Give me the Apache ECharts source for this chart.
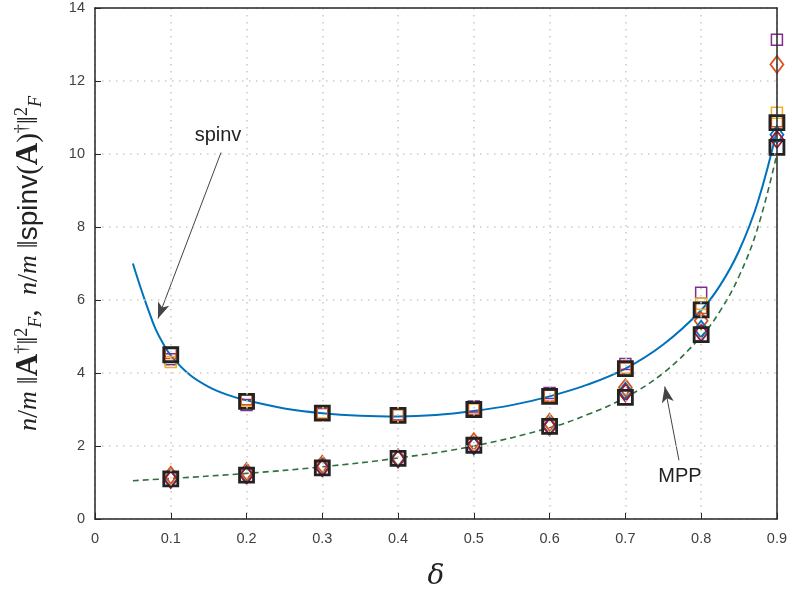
<!DOCTYPE html>
<html><head><meta charset="utf-8">
<script src="https://cdn.jsdelivr.net/npm/echarts@6/dist/echarts.min.js"></script>
<style>html,body{margin:0;padding:0;background:#fff}#c{width:790px;height:596px}</style>
</head><body><div id="c"></div>
<script>
// ---- data ----
const xTicks = [0, 0.1, 0.2, 0.3, 0.4, 0.5, 0.6, 0.7, 0.8, 0.9];
const deltas = [0.1, 0.2, 0.3, 0.4, 0.5, 0.6, 0.7, 0.8, 0.9];

// theoretical curves
const spinvCurveX = [0.05, 0.06, 0.07, 0.08, 0.09, 0.1, 0.125, 0.15, 0.175, 0.2, 0.25, 0.3, 0.35, 0.4, 0.45, 0.5, 0.55, 0.6, 0.65, 0.7, 0.75, 0.8, 0.825, 0.85, 0.875, 0.9];
const spinvCurveY = [7.0, 6.35, 5.75, 5.2, 4.8, 4.48, 3.95, 3.62, 3.4, 3.25, 3.03, 2.9, 2.83, 2.81, 2.85, 2.96, 3.12, 3.36, 3.68, 4.12, 4.78, 5.72, 6.4, 7.35, 8.7, 10.65];
const mppCurveX = [0.05, 0.1, 0.2, 0.3, 0.4, 0.5, 0.6, 0.65, 0.7, 0.75, 0.8, 0.825, 0.85, 0.875, 0.9];
const mppCurveY = [1.05, 1.11, 1.25, 1.43, 1.67, 2.0, 2.5, 2.86, 3.33, 4.0, 5.0, 5.7, 6.65, 8.0, 10.0];

// empirical markers, spinv (squares)
const spinvPurple = [4.38, 3.12, 2.88, 2.86, 3.08, 3.45, 4.25, 6.2, 13.13];
const spinvYellow = [4.3, 3.25, 2.92, 2.84, 3.0, 3.38, 4.15, 5.9, 11.13];
const spinvOrange = [4.55, 3.28, 2.9, 2.85, 3.02, 3.38, 4.12, 5.78, 10.9];
const spinvBlack  = [4.5, 3.22, 2.9, 2.84, 3.0, 3.36, 4.12, 5.73, 10.86];
// empirical markers, MPP (diamonds + black squares)
const mppOrange = [1.2, 1.3, 1.5, 1.68, 2.12, 2.65, 3.6, 5.43, 12.45];
const mppBlue   = [1.1, 1.22, 1.42, 1.66, 2.0, 2.55, 3.5, 5.2, 10.53];
const mppRed    = [1.08, 1.2, 1.4, 1.64, 2.02, 2.52, 3.45, 5.1, 10.4];
const mppBlack  = [1.1, 1.2, 1.4, 1.66, 2.02, 2.54, 3.33, 5.05, 10.18];

const zip = (xs, ys) => xs.map((x, i) => [x, ys[i]]);

function sq(name, data, color, size, bw, z) {
  return { name, type: 'scatter', data: zip(deltas, data), symbol: 'rect', symbolSize: size,
    itemStyle: { color: 'rgba(0,0,0,0)', borderColor: color, borderWidth: bw, opacity: 1 }, z: z, silent: true };
}
function dm(name, data, color, z) {
  return { name, type: 'scatter', data: zip(deltas, data), symbol: 'diamond', symbolSize: [13, 17],
    itemStyle: { color: 'rgba(0,0,0,0)', borderColor: color, borderWidth: 1.8, opacity: 1 }, z: z, silent: true };
}

const gridLine = { show: true, lineStyle: { color: '#cccccc', type: [1.5, 5.5], width: 1.6 } };
const frame = { show: true, onZero: false, lineStyle: { color: '#262626', width: 1.5 } };

const chart = echarts.init(document.getElementById('c'));
chart.setOption({
  animation: false,
  backgroundColor: '#fff',
  grid: { left: 95, right: 13, top: 8, bottom: 75 },
  xAxis: [{
    type: 'value', min: 0, max: 0.9, interval: 0.1, z: 10,
    axisLine: frame,
    axisTick: { show: true, inside: true, length: 6, lineStyle: { color: '#262626' } },
    axisLabel: { color: '#404040', fontSize: 14.5, fontFamily: 'Liberation Sans, Helvetica, Arial', margin: 12,
      formatter: v => (Math.round(v * 10) / 10).toString() },
    splitLine: gridLine,
    name: 'δ', nameLocation: 'middle', nameGap: 44,
    nameTextStyle: { fontFamily: 'DejaVu Serif, Liberation Serif, serif', fontStyle: 'italic', fontSize: 28, color: '#222' }
  }, {
    type: 'value', position: 'top', min: 0, max: 0.9, interval: 0.1, z: 10,
    axisLine: frame, axisTick: { show: false }, axisLabel: { show: false }, splitLine: { show: false }
  }],
  yAxis: [{
    type: 'value', min: 0, max: 14, interval: 2, z: 10,
    axisLine: frame,
    axisTick: { show: true, inside: true, length: 6, lineStyle: { color: '#262626' } },
    axisLabel: { color: '#404040', fontSize: 14.5, fontFamily: 'Liberation Sans, Helvetica, Arial', margin: 10 },
    splitLine: gridLine,
    name: '{i|n}{t|/}{i|m} {t|‖}{b|A}{s|†}{t|‖}{s|2}{f|F}{t|,  }{i|n}{t|/}{i|m} {t|‖}{r|spinv}{t|(}{b|A}{t|)}{s|†}{t|‖}{s|2}{f|F}',
    nameLocation: 'middle', nameGap: 50, nameRotate: 90,
    nameTextStyle: {
      color: '#222', fontSize: 27, fontFamily: 'Liberation Serif, serif',
      rich: {
        i: { fontFamily: 'Liberation Serif, serif', fontStyle: 'italic', fontSize: 26, color: '#222' },
        t: { fontFamily: 'Liberation Serif, serif', fontSize: 29, color: '#222' },
        b: { fontFamily: 'Liberation Serif, serif', fontWeight: 'bold', fontSize: 31, color: '#222' },
        s: { fontFamily: 'Liberation Serif, serif', fontSize: 18, color: '#222', verticalAlign: 'top', padding: [0, 0, 14, 0] },
        f: { fontFamily: 'Liberation Serif, serif', fontStyle: 'italic', fontSize: 18, color: '#222', verticalAlign: 'bottom', padding: [12, 0, 0, 0] },
        r: { fontFamily: 'Liberation Sans, Helvetica, Arial', fontSize: 28, color: '#222' }
      }
    }
  }, {
    type: 'value', position: 'right', min: 0, max: 14, interval: 2, z: 10,
    axisLine: frame, axisTick: { show: false }, axisLabel: { show: false }, splitLine: { show: false }
  }],
  series: [
    { name: 'spinv theory', type: 'line', data: zip(spinvCurveX, spinvCurveY), smooth: 0.4, symbol: 'none',
      lineStyle: { color: '#0072BD', width: 2 }, z: 2, silent: true,
      markLine: { silent: true, symbol: ['none', 'arrow'], symbolSize: [9, 16],
        lineStyle: { color: '#444', width: 1, type: 'solid' }, label: { show: false },
        data: [ [ { coord: [0.1663, 10.04] }, { coord: [0.0831, 5.49] } ],
                [ { coord: [0.7707, 1.61] }, { coord: [0.752, 3.63] } ] ] },
      markPoint: { silent: true, symbol: 'circle', symbolSize: 0,
        label: { show: true, color: '#222', fontSize: 20, fontFamily: 'Liberation Sans, Helvetica, Arial', formatter: p => p.name },
        data: [ { name: 'spinv', coord: [0.1623, 10.5] }, { name: 'MPP', coord: [0.772, 1.17] } ] }
    },
    { name: 'MPP theory', type: 'line', data: zip(mppCurveX, mppCurveY), smooth: 0.4, symbol: 'none',
      lineStyle: { color: '#2E7040', width: 1.6, type: [6, 4] }, z: 2, silent: true },
    sq('spinv purple', spinvPurple, '#7E2F8E', 11, 1.5, 3),
    sq('spinv yellow', spinvYellow, '#EDB120', 11, 1.5, 3),
    sq('spinv orange', spinvOrange, '#D95319', 11, 1.5, 3),
    dm('mpp orange', mppOrange, '#D95319', 3),
    dm('mpp blue', mppBlue, '#0072BD', 3),
    dm('mpp red', mppRed, '#A2142F', 3),
    sq('spinv black', spinvBlack, '#222', 14, 2.8, 4),
    sq('mpp black', mppBlack, '#222', 14, 2.8, 4)
  ]
});
</script></body></html>
